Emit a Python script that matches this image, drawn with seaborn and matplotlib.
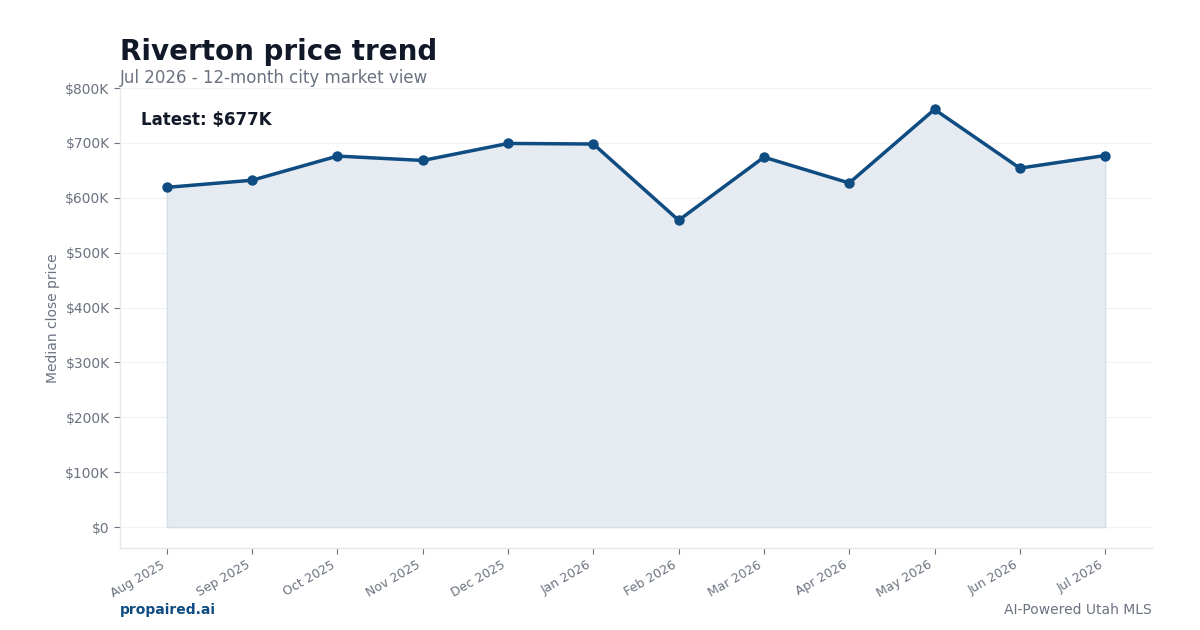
import matplotlib
matplotlib.use("Agg")
import matplotlib.pyplot as plt
import pandas as pd
import seaborn as sns
from matplotlib.ticker import FuncFormatter

months = ["Aug 2025", "Sep 2025", "Oct 2025", "Nov 2025", "Dec 2025", "Jan 2026",
          "Feb 2026", "Mar 2026", "Apr 2026", "May 2026", "Jun 2026", "Jul 2026"]
median_price = [619000, 632000, 676000, 668000, 699000, 698000,
                559000, 674000, 627000, 761000, 654000, 677000]
y_ticks = [0, 100000, 200000, 300000, 400000, 500000, 600000, 700000, 800000]

LINE = "#0f4c81"
GRAY = "#6b7280"
DARK = "#111827"

df = pd.DataFrame({"month": months, "price": median_price})

sns.set_theme(style="white")
plt.rcParams["font.family"] = ["DejaVu Sans"]

fig = plt.figure(figsize=(12, 6.3), dpi=100)
ax = fig.add_axes([0.1, 0.1302, 0.86, 0.7301])

# shaded area under the line
ax.fill_between(range(len(df)), df["price"], 0, color="#e6ebf2",
                edgecolor="#d5dde8", linewidth=1, zorder=1)
sns.lineplot(data=df, x="month", y="price", ax=ax, color=LINE, linewidth=2.5,
             marker="o", markersize=7.5, markeredgewidth=0, zorder=3, sort=False)

ax.set_xlim(-0.55, 11.55)
ax.set_ylim(-38000, 800000)
ax.set_yticks(y_ticks)
ax.yaxis.set_major_formatter(FuncFormatter(lambda v, _: "$0" if v == 0 else f"${v/1000:.0f}K"))
ax.grid(axis="y", color="#f0f1f3", linewidth=0.8)
ax.set_axisbelow(True)

for side in ["top", "right"]:
    ax.spines[side].set_visible(False)
for side in ["left", "bottom"]:
    ax.spines[side].set_color("#e5e7eb")
    ax.spines[side].set_linewidth(1)

ax.tick_params(axis="both", colors=GRAY, labelsize=10, length=4, width=0.8,
               color=GRAY, labelcolor=GRAY, left=True, bottom=True)
plt.setp(ax.get_xticklabels(), rotation=30, ha="right", fontsize=9)
ax.set_xlabel("")
ax.set_ylabel("Median close price", color=GRAY, fontsize=10)

ax.text(0.02, 0.93, "Latest: $677K", transform=ax.transAxes, fontsize=12,
        fontweight="bold", color=DARK, va="center")

fig.text(0.1, 0.918, "Riverton price trend", fontsize=20, fontweight="bold",
         color=DARK, va="center")
fig.text(0.1, 0.876, "Jul 2026 - 12-month city market view", fontsize=12,
         color=GRAY, va="center")
fig.text(0.1, 0.032, "propaired.ai", fontsize=10, fontweight="bold", color=LINE, va="center")
fig.text(0.96, 0.032, "AI-Powered Utah MLS", fontsize=10, color=GRAY, va="center", ha="right")

fig.savefig("out.png", dpi=100)
